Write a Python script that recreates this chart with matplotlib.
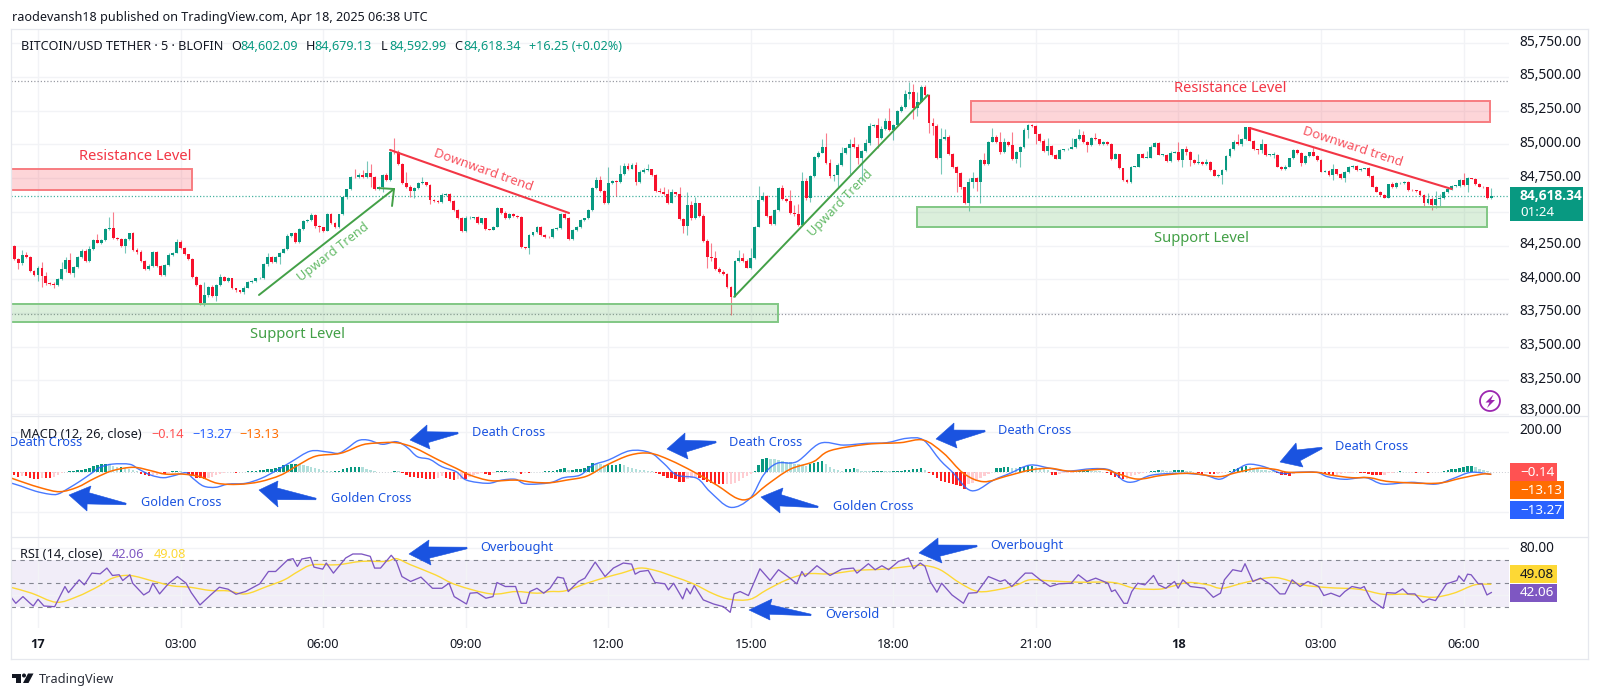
import numpy as np
import matplotlib
matplotlib.use("Agg")
import matplotlib.pyplot as plt
from matplotlib.patches import Polygon, Rectangle, Circle, PathPatch
from matplotlib.path import Path

W, H = 1600, 698
FONT = "Noto Sans"
plt.rcParams["font.family"] = FONT

# ---------------------------------------------------------------- candles
bar_start = -6
first_open = 84246
closes = [
 84152,84118,84179,84167,84061,84029,84081,84024,83969,83967,83957,83999,84073,84142,84048,84088,84162,84212,84137,84224,
 84291,84271,84291,84372,84382,84303,84298,84249,84298,84340,84217,84204,84137,84073,84100,84199,84100,84031,84105,84179,
 84197,84274,84229,84184,84150,84014,83957,83821,83883,83940,83875,83957,84014,83989,84006,83932,83918,83903,83937,83977,
 83984,84006,84009,84110,84162,84130,84162,84197,84224,84320,84340,84276,84375,84434,84439,84479,84397,84385,84360,84481,
 84419,84385,84481,84607,84667,84761,84756,84773,84756,84790,84756,84669,84682,84773,84736,84946,84941,84855,84711,84686,
 84657,84674,84711,84719,84699,84588,84583,84575,84625,84632,84583,84513,84452,84358,84452,84456,84459,84419,84452,84370,
 84367,84390,84526,84494,84452,84484,84469,84459,84236,84229,84328,84348,84390,84328,84316,84311,84372,84377,84484,84452,
 84298,84365,84390,84439,84452,84513,84674,84736,84657,84563,84711,84729,84724,84780,84840,84820,84847,84724,84798,84810,
 84815,84773,84657,84649,84632,84568,84644,84632,84444,84395,84550,84452,84563,84471,84283,84162,84157,84078,84056,84039,
 83945,83870,84135,84155,84137,84086,84155,84390,84588,84617,84471,84409,84513,84674,84595,84580,84494,84481,84402,84729,
 84600,84766,84904,84939,84978,84860,84766,84773,84847,84939,84971,85003,84978,84897,84951,85013,85137,85144,85045,85112,
 85174,85107,85144,85250,85280,85371,85389,85268,85317,85423,85367,85156,85139,84897,85038,85057,84929,84830,84785,84682,
 84563,84724,84748,84724,84884,84852,85020,85057,85020,84946,85020,84996,84889,84941,84978,85107,85144,85139,85077,85025,
 84954,84988,84921,84894,84958,84963,84968,84978,85038,85070,85018,84996,85045,85038,85001,85018,85003,84894,84926,84822,
 84736,84721,84835,84835,84926,84902,84902,84983,85010,84924,84924,84877,84939,84944,84884,84963,84944,84884,84860,84870,
 84855,84872,84810,84768,84773,84810,84914,84963,85020,85001,85038,85127,85028,84963,84958,85001,84921,84921,84921,84835,
 84817,84835,84897,84958,84934,84860,84914,84941,84916,84884,84798,84805,84773,84815,84780,84748,84795,84835,84840,84810,
 84820,84822,84768,84686,84649,84625,84605,84704,84686,84711,84716,84724,84662,84659,84654,84625,84563,84592,84550,84592,
 84600,84644,84667,84691,84691,84736,84699,84748,84746,84706,84686,84681,84602,84618.34]
upper_wicks = [
 5,5,40,20,8,5,20,50,32,8,10,8,55,25,55,10,8,15,10,25,
 5,45,10,8,80,115,10,5,5,5,8,15,10,5,15,10,10,5,8,15,
 5,22,18,8,5,5,8,5,100,10,15,10,22,8,8,5,5,5,10,10,
 8,5,5,10,35,8,8,8,5,17,5,10,5,5,10,10,5,8,5,8,
 8,8,5,8,5,8,60,15,35,87,65,10,8,8,15,5,105,15,8,85,
 10,8,10,40,5,8,10,8,15,8,5,5,5,8,15,15,5,10,5,5,
 5,8,8,5,10,8,10,5,8,5,5,5,8,5,5,5,8,8,8,10,
 10,5,5,8,5,10,8,20,30,5,125,10,5,70,20,25,15,25,10,15,
 40,5,8,20,35,40,25,5,55,12,100,30,50,5,10,12,105,50,15,10,
 5,5,10,60,40,10,75,5,100,30,8,8,10,8,25,10,85,60,80,65,
 20,5,10,15,60,105,30,10,15,45,10,40,50,25,8,30,20,10,50,25,
 25,95,10,8,12,30,75,60,75,15,20,5,40,10,85,60,15,8,10,10,
 5,30,45,8,5,50,5,62,10,70,30,8,94,8,10,15,5,8,5,8,
 15,60,8,5,8,5,5,70,8,42,30,10,8,42,5,5,5,5,10,5,
 5,5,5,8,5,8,50,10,5,5,5,5,10,5,72,5,25,8,5,60,
 5,20,5,10,5,5,5,8,10,60,10,5,5,8,5,37,5,5,25,5,
 5,10,5,8,8,8,5,5,40,5,5,5,5,40,5,5,5,8,10,5,
 8,5,8,8,5,5,5,5,20,8,8,8,5,5,5,5,5,45,20,60,
 30,8,5,5,8,10,50,8,5,5,5,5,5,61]
lower_wicks = [
 10,45,10,10,8,8,45,80,15,8,20,8,8,20,8,35,8,5,12,8,
 8,5,10,8,5,8,5,8,55,8,10,15,8,5,8,8,10,8,5,8,
 8,5,8,8,5,5,5,10,20,15,10,37,5,5,8,5,10,8,10,5,
 5,5,5,5,10,8,8,50,5,5,8,8,8,8,8,8,15,37,8,5,
 8,8,5,5,10,5,8,8,8,8,70,8,8,32,8,8,15,10,8,8,
 50,55,5,8,8,28,8,10,8,5,12,5,5,5,5,8,8,8,8,5,
 5,5,5,8,8,5,5,5,8,8,42,5,8,5,8,8,5,5,5,8,
 8,8,5,8,5,5,5,5,8,8,8,8,110,10,5,8,5,25,8,8,
 5,8,8,8,8,10,5,5,8,50,70,10,8,8,8,80,20,10,10,8,
 8,135,5,8,8,5,8,8,5,8,8,8,8,8,8,8,10,10,10,5,
 10,25,8,8,5,8,18,35,100,8,8,190,8,40,165,8,20,8,75,8,
 8,8,75,5,8,10,35,80,60,5,5,75,70,5,120,8,8,8,135,10,
 5,60,50,67,160,8,8,5,8,15,8,8,8,30,105,8,60,8,75,5,
 8,30,8,5,5,5,5,5,8,8,5,55,5,5,8,5,5,8,5,8,
 5,5,5,5,5,5,5,5,5,5,8,5,5,5,8,50,20,45,8,8,
 8,5,8,5,10,70,5,8,5,5,10,5,5,5,30,20,5,8,25,5,
 5,8,5,5,5,20,5,5,5,5,5,5,8,40,5,5,30,8,8,5,
 5,5,8,5,5,5,5,5,8,8,8,8,5,5,8,8,20,8,37,20,
 60,8,5,5,5,5,8,50,5,5,5,8,8,9]

# ---------------------------------------------------------------- MACD
hist_values = [
 -15,-25,-20,-22,-32,-35,-35,-30,-30,-30,-25,-18,-8,-2,
 5,5,8,10,12,18,28,32,38,40,38,30,25,25,20,15,10,3,
 -12,-18,-20,-18,-15,-10,-12,-5,5,5,3,-3,-15,-20,-30,-33,-38,-30,-25,-15,-10,-5,-3,-2,-5,-3,-2,
 2,3,5,8,10,12,15,20,25,32,35,40,40,38,35,30,25,20,15,10,5,2,3,5,12,18,22,25,25,22,15,8,5,
 -2,-2,-3,-2,3,2,-5,-15,-25,-25,-32,-32,-35,-38,-38,-30,-22,-30,-38,-40,-38,-35,-35,-25,-15,-10,-8,-10,-15,-5,
 3,5,5,3,2,-2,-10,-5,-5,-3,-3,-2,2,2,
 5,10,15,18,8,8,12,15,20,30,45,40,38,35,35,35,35,38,35,25,20,15,10,8,5,2,
 -8,-13,-20,-30,-33,-38,-50,-50,-35,-30,-28,-30,-40,-50,-58,-60,-62,-63,-62,-60,-55,-45,-30,-20,-10,
 5,35,65,70,65,62,60,55,50,48,40,38,35,30,38,45,50,55,40,25,15,10,5,12,15,18,15,5,3,2,3,5,5,3,2,3,3,5,8,10,12,15,18,8,
 -8,-18,-30,-45,-52,-58,-60,-67,-70,-85,-60,-55,-45,-30,-20,-10,-3,
 18,20,22,25,20,18,22,25,28,30,25,20,18,10,
 -15,-15,-10,-8,-6,-4,-2,3,5,8,6,4,2,-2,-5,-15,-25,-33,-38,-35,-22,-15,-10,-6,-3,
 3,6,10,8,6,5,8,8,10,6,3,-3,-8,-10,-8,-10,-12,-10,-5,-2,
 6,12,18,24,28,25,18,12,10,8,6,3,-8,-15,-18,-22,-10,-6,-4,-2,-1,-2,-3,-4,-12,-12,-15,-14,-13,-8,-5,-4,-3,-4,-6,-10,-15,-15,-18,-14,-8,-5,-3,
 2,1,-2,-2,-6,-3,-2,-5,-3,-2,1,2,8,12,12,18,22,28,28,22,15,10,5,-0.14]
macd_bars = [-6.6,-4.3,-0.7,2.8,5,7.7,10.8,13.5,15.7,18.8,23.2,25.4,28.5,31.6,34.3,37.4,39.1,41.8,44.9,48,52.4,56.4,60.4,64,68.8,73.3,75.9,78.1,80.8,83.4,87,90.5,93.2,95.8,98.9,102,105.6,108.2,113.6,117.1,120.6,123.3,
 129.3,132.7,136.9,140.2,144,149.5,154.6,158,161.3,166.4,169.7,174.8,179.8,183.2,186.6,191.6,197.5,203.4,209.3,214.3,219.4,223.6,227.8,231.2,234.5,237.1,241.3,245.5,250.5,255.6,
 260,266.2,270.7,274.2,276.9,281.3,288.4,294.6,298.6,302.5,305.6,309.6,314,317.6,322.9,325.6,330,335.3,339.7,346.8,353,357.5,361.9,367]
macd_vals = [-58,-72,-97,-112,-112,-83,-45,-8,22,38,37,13,-17,-30,-20,-5,-33,-72,-78,-62,-58,-33,8,50,103,98,92,117,155,158,137,150,122,75,62,25,0,-42,-58,-42,-38,-62,
 -55,-30,-17,33,58,105,95,42,-17,-33,-100,-178,-133,-17,42,50,142,133,142,145,167,158,58,-8,-83,-92,-42,-8,33,17,
 3,15,8,-45,-50,-17,-8,-17,-37,8,37,25,-8,-3,-3,-25,-38,-30,-62,-53,-62,-33,-3,-13.27]
signal_bars = [-6.6,-3.4,1.1,5.5,9.9,14.3,18.8,24.1,28.5,32.1,36.5,40.9,45.3,50.7,56,61.3,65.7,70.2,76.4,81.7,85.2,90.5,95,101.2,105.6,109.1,114.4,120.6,125.1,
 129.3,133.5,138.6,143.6,149.5,154.6,159.6,165.5,171.4,176.5,179.8,184,189.9,195.8,200,209.3,217.7,223.6,228.7,233.7,238.8,244.6,250.5,255.6,
 260.9,268.9,272.4,277.7,283.9,291,298.1,302.5,307.9,312.3,315.8,322.9,326.5,331.8,336.2,341.5,353,359.2,364.6,367]
signal_vals = [-33,-55,-83,-100,-78,-33,5,22,5,-12,-12,-25,-58,-63,-50,-17,33,78,92,133,143,145,120,58,17,-17,-45,-42,-53,
 -55,-42,-22,33,83,92,58,0,-67,-133,-133,-67,12,50,105,137,145,158,92,-8,-50,-22,8,17,
 2,12,-8,-37,-18,-8,-25,-5,17,12,-3,-3,-17,-30,-30,-50,-58,-33,-12,-13.13]

# ---------------------------------------------------------------- RSI
rsi_bars = [-6.6,-5.6,-3.8,-2,-1.2,0,1.5,4.2,5.5,6.8,7.7,10.4,11.7,13.6,15.7,17.4,18.8,20.5,21.4,23.2,23.9,26.7,28.1,29,30.7,32.9,35.2,37.4,38.7,40.9,43.6,45.8,48,50,52.4,56,58.2,60,63.1,64.4,65.5,66.6,68.8,69.7,71.9,72.8,74.6,77.7,79.5,81.7,83.9,85,86.5,89.2,90.5,91.9,94.1,96.7,99.6,102,103.8,105.1,108.2,109.1,110.9,113.1,114.9,115.9,118,120.6,122,123.3,124.2,126,127.7,
 129.3,131.2,132.7,133.9,136.5,138.1,140.7,143.2,145.3,147.8,149.9,150.8,152,154.1,155.8,158.3,159.2,160.5,162.8,163.8,164.7,165.7,168,170.6,173.1,174.8,175.8,177.3,179.4,182.3,184.9,187,189.9,191.6,192.9,193.7,196.7,200,203,205.9,206.8,209.7,211.4,213.1,214.8,217.3,219.8,221.1,222.8,224,225.3,227,228.2,230.8,233.7,235,237.1,240,243,244.2,245.9,249.3,251,253.1,255.6,
 257.8,260.9,262.7,264.9,267.1,270.2,271.1,272,274.2,275.1,276.2,277.7,279.5,281.7,283,284.8,287,287.9,289.1,291,294.6,296.8,298.6,299.6,301.7,303.9,304.8,306.8,308.7,311.4,313.6,314.9,316.7,318.7,320.7,323.4,324.7,326.5,328.7,330,331.8,334,334.9,336.6,339.7,340.6,342.8,344.6,345.9,347.7,349.7,351.3,352.9,355.7,358.3,358.8,360.1,361,361.9,363.7,364.7,365.9,367]
rsi_vals = [37.2,32.9,38.6,32.9,30.6,36.3,30.6,30,38.6,47.2,42,52.9,48.6,58.6,58,62.9,56.6,57.2,52.3,57.2,50,40,42.9,50,40.9,49.5,55.7,50,42,31.5,40,46.6,44.9,40.6,42.9,49.5,60,60,70,70.9,64.3,70.6,72,63.7,62,67.2,58.6,71.5,74.9,74.9,72.9,62.9,62.9,73.8,68.6,55.7,51.5,55.2,45.7,45.7,50,38.6,32.3,41.5,42,37.2,38.6,50.6,47.2,47.2,32.9,32.9,42.9,45.7,41.5,
 45.7,55.2,54.3,42.9,51.5,54.3,68,55.7,62.9,67.2,66.3,57.7,60,60.9,50.6,49.5,44.3,50,36.6,45.7,40.9,48,35.8,32.3,30,25.2,40.9,42.9,39.5,62.3,52.3,61.5,54.3,49.5,60,55.7,64.9,56.6,62,62.9,58.6,66.6,61.5,64.9,61.5,68.6,71.5,62.3,67.2,64.3,51.5,42.3,50,40,32.9,41.5,42,55.7,51.5,52.9,47.2,58.6,58.6,52.9,47.2,
 49.5,50,57.2,51.5,54.3,50,42.9,44.3,32.9,32.9,42.9,50,48.6,56.6,48.6,45.7,51.5,45.7,52.9,47.2,45.7,38,41.5,52.9,61.5,60,66.6,51.5,54.3,48.6,40.9,40.9,52.9,47.2,51.5,47.2,39.5,41.5,38.6,42.9,47.2,45.7,47.2,35.8,28.6,42,41.5,45.2,40.9,40.9,33.5,36.6,35.2,49.5,52.3,56.3,51.5,57.7,57.2,49.5,49.5,40,42.06]
rsi_ma_bars = [-6.6,-1.6,4.6,9.9,15.2,18.8,23.2,29.4,33.8,38.3,43.6,48,52.4,57.8,62.2,65.7,69.3,75.5,81.7,87.9,90.5,94.1,100.3,105.6,114.4,120.6,126,
 129.3,133.1,138.6,143.6,147.4,152,156.2,160.5,165.5,170.6,174.8,179.8,184,189.1,194.1,200,206.8,213.5,219.8,223.6,227.8,232.9,237.5,243,247.2,250.5,255.6,
 262.7,271.5,276.9,283,286.2,290.6,295.5,299,305.2,312.3,319.4,325.6,333.5,339.7,345.9,352.1,357.5,362.8,367]
rsi_ma_vals = [46.3,41.5,33.8,38.6,47.2,54.3,56.6,51.5,47.8,46.6,43.8,43.5,40.9,47.2,52.9,60,65.7,65.7,68.6,68.6,70.9,65.7,57.2,48.6,40.9,42.9,41.5,
 42.9,43.5,50,55.2,58.6,62.9,60.6,55.7,49.5,40.9,36.3,36.3,44.3,52.9,58,58,60.9,62,64.3,65.2,61.5,50,42.9,44.9,48.6,52.9,52,
 50.9,50.6,45.7,44.9,47.2,50.6,48.6,45.7,50.9,54.9,48.6,46.3,44.9,40.6,40.6,38,41.5,48.6,49.08]

# ---------------------------------------------------------------- axis labels
price_ticks = [85750,85500,85250,85000,84750,84500,84250,84000,83750,83500,83250,83000]
price_labels_hidden = [84500]  # sits behind the last-price tag
time_ticks = [0,36,72,108,144,180,216,252,288,324,360]
time_labels = ["17","03:00","06:00","09:00","12:00","15:00","18:00","21:00","18","03:00","06:00"]

# ---------------------------------------------------------------- drawn objects (bar index, price)
resistance_zones = [(-7,39,84662,84818),(235.6,366.7,85166,85322)]
support_zones = [(-7,186.9,83683,83816),(222,365.9,84387,84536)]
up_lines = [((55.8,83883),(89.9,84669)),((175.8,83869),(224.7,85366))]
up_barbs = [((86.1,84676),(89.9,84669)),((89.4,84543),(89.9,84669))]
down_lines = [((88.9,84959),(134.1,84491)),((306,85122),(357,84669))]
level_dotted = [(85470,"#787b86"),(84618,"#089981"),(83739,"#787b86")]

# ---------------------------------------------------------------- hand-drawn blue arrows: tip, top barb, tail, bottom barb (image px)
arrows = [
 ((69,495),(91,486),(126,504),(87,511)),
 ((259,490),(278,481),(316,499),(278,507)),
 ((410,440),(427,425),(458,433),(430,449)),
 ((667,449),(685,433),(716,442),(688,459)),
 ((761,497),(783,488),(818,507),(780,513)),
 ((936,439),(954,423),(985,431),(957,448)),
 ((409,554),(429,540),(467,548),(431,565)),
 ((919,553),(938,538),(977,546),(942,563)),
 ((749,610),(772,599),(811,615),(770,620)),
 ((1280,462),(1296,443),(1322,448),(1303,467)),
]
blue_labels = [
 ("Death Cross",46,442),("Death Cross",509,432),("Golden Cross",181,503),("Golden Cross",371,498),
 ("Death Cross",766,442),("Golden Cross",873,506),("Death Cross",1035,430),("Death Cross",1372,447),
 ("Overbought",517,548),("Overbought",1027,545),("Oversold",852,614),
]

# ---------------------------------------------------------------- geometry
LEFT, RIGHT = 10.5, 1509.0
PANE1_TOP, PANE1_BOT = 29.0, 416.0
PANE2_BOT, PANE3_BOT = 536.7, 628.0
XLIM = ((LEFT-38)/3.96, (RIGHT-38)/3.96)

fig = plt.figure(figsize=(W/100, H/100), dpi=100, facecolor="white")

def add_ax(top, bot):
    ax = fig.add_axes([LEFT/W, 1-bot/H, (RIGHT-LEFT)/W, (bot-top)/H], facecolor="none")
    ax.set_xlim(*XLIM)
    for s in ax.spines.values():
        s.set_visible(False)
    ax.set_xticks(time_ticks)
    ax.set_xticklabels([])
    ax.tick_params(length=0, labelleft=False, labelbottom=False)
    ax.grid(True, color="#f2f3f6", lw=1.0)
    ax.set_axisbelow(True)
    return ax

ax1 = add_ax(PANE1_TOP, PANE1_BOT)
ax2 = add_ax(PANE1_BOT, PANE2_BOT)
ax3 = add_ax(PANE2_BOT, PANE3_BOT)

ax1.set_ylim(85250+(110.7-PANE1_BOT)*7.418, 85250+(110.7-PANE1_TOP)*7.418)
ax2.set_ylim((471.7-PANE2_BOT)*5, (471.7-PANE1_BOT)*5)
ax3.set_ylim(80-(PANE3_BOT-548)/1.174, 80+(548-PANE2_BOT)/1.174)
ax1.set_yticks(price_ticks)
ax2.set_yticks([-200,200])
ax3.set_yticks([40,80])

UP, DOWN = "#089981", "#f7112c"
idx = np.arange(bar_start, bar_start+len(closes))
c = np.array(closes, float)
o = np.r_[first_open, c[:-1]]
top = np.maximum(o, c); bot = np.minimum(o, c)
hi = top+np.array(upper_wicks, float)
lo = bot-np.array(lower_wicks, float)
cols = [UP if a >= b else DOWN for a, b in zip(c, o)]
for level, col in level_dotted:
    ax1.axhline(level, color=col, lw=0.9, ls=(0,(1,1.6)), alpha=0.75, zorder=1)
ax1.vlines(idx, lo, hi, colors=cols, lw=0.8, alpha=0.55, zorder=2)
ax1.bar(idx, np.maximum(top-bot, 5), bottom=bot, width=0.72, color=cols, lw=0, zorder=3)

for a, b, p0, p1 in resistance_zones:
    ax1.add_patch(Rectangle((a,p0), b-a, p1-p0, edgecolor="#f77c80", lw=1.4, zorder=4,
                            facecolor=(0.97,0.32,0.37,0.24)))
for a, b, p0, p1 in support_zones:
    ax1.add_patch(Rectangle((a,p0), b-a, p1-p0, edgecolor="#81c784", lw=1.4, zorder=4,
                            facecolor=(0.30,0.69,0.31,0.2)))
for (a, b) in up_lines+up_barbs:
    ax1.plot([a[0],b[0]], [a[1],b[1]], color="#43a047", lw=1.4, zorder=5, solid_capstyle="round")
for (a, b) in down_lines:
    ax1.plot([a[0],b[0]], [a[1],b[1]], color="#f23645", lw=1.5, zorder=5, solid_capstyle="round")

def curve(ax, xs, ys, color, lw, zorder, alpha=1.0):
    p = np.column_stack([xs, ys]).astype(float)
    verts, codes = [p[0]], [Path.MOVETO]
    for k in range(len(p)-1):
        p0 = p[max(k-1, 0)]; p1 = p[k]; p2 = p[k+1]; p3 = p[min(k+2, len(p)-1)]
        verts += [p1+(p2-p0)/6, p2-(p3-p1)/6, p2]
        codes += [Path.CURVE4]*3
    ax.add_patch(PathPatch(Path(verts, codes), fill=False, edgecolor=color, lw=lw, zorder=zorder, alpha=alpha))

# MACD
h = np.array(hist_values, float)
hcols = []
for k, v in enumerate(h):
    prev = h[k-1] if k else v
    if v >= 0:
        hcols.append("#089981" if v >= prev else "#b2dfdb")
    else:
        hcols.append("#ff2020" if v <= prev else "#ffcdd2")
ax2.bar(idx, h, width=0.62, color=hcols, lw=0, zorder=2)
ax2.axhline(0, color="#c9ccd3", lw=0.7, ls=(0,(1,2)), zorder=1)
curve(ax2, macd_bars, macd_vals, "#2962ff", 1.0, 3, 0.85)
curve(ax2, signal_bars, signal_vals, "#ff6d00", 1.1, 4)

# RSI
ax3.axhspan(30, 70, color="#7e57c2", alpha=0.1, lw=0, zorder=0)
for lv in (70, 50, 30):
    ax3.axhline(lv, color="#787b86", lw=0.8, ls=(0,(4,4)), zorder=1, alpha=0.9)
curve(ax3, rsi_ma_bars, rsi_ma_vals, "#fdd835", 1.0, 3)
ax3.plot(rsi_bars, rsi_vals, color="#7e57c2", lw=0.95, zorder=4)

# ---------------------------------------------------------------- overlay in image pixels
ov = fig.add_axes([0,0,1,1], facecolor="none", zorder=10)
ov.set_xlim(0, W); ov.set_ylim(H, 0); ov.axis("off")

GRID = "#e6e8ee"
for x0, y0, x1, y1 in [(10.5,29,1588,29),(10.5,659,1588,659),(10.5,29,10.5,659),(1588,29,1588,659),
                       (10.5,416,1588,416),(10.5,536.7,1588,536.7)]:
    ov.plot([x0,x1],[y0,y1],color=GRID,lw=0.9,zorder=1)

TXT = "#131722"
def t(x, y, s, color=TXT, size=8.6, ha="left", **kw):
    return ov.text(x, y, s, color=color, fontsize=size, ha=ha, va="center", zorder=kw.pop("zorder",8), **kw)

t(12, 17, "raodevansh18 published on TradingView.com, Apr 18, 2025 06:38 UTC", size=9.05)
t(21, 47, "BITCOIN/USD TETHER · 5 · BLOFIN", size=9.1)
for lab, x, val, xv in [("O",231,"84,602.09",240),("H",306,"84,679.13",314.5),("L",381,"84,592.99",389),("C",454,"84,618.34",463)]:
    t(x, 47, lab, size=9.1)
    t(xv, 47, val, color="#089981", size=9.1)
t(529, 47, "+16.25 (+0.02%)", color="#089981", size=9.1)

t(20, 434, "MACD (12, 26, close)", size=9.2)
t(151, 434, "−0.14", color="#ff5252", size=9.2)
t(192, 434, "−13.27", color="#2962ff", size=9.2)
t(239, 434, "−13.13", color="#ff6d00", size=9.2)
t(20, 555, "RSI (14, close)", size=9.2)
t(112, 555, "42.06", color="#7e57c2", size=9.2)
t(154, 555, "49.08", color="#fdd835", size=9.2)

# y axis labels
for p in price_ticks:
    if p in price_labels_hidden:
        continue
    y = 110.7+(85250-p)/7.418-1
    if p == 83000:
        y = 411
    t(1519, y, f"{p:,.2f}", size=9.9, zorder=2)
t(1519, 431, "200.00", size=9.9)
t(1519, 548, "80.00", size=9.9)

# time labels
for b, lab in zip(time_ticks, time_labels):
    bold = lab in ("17","18")
    t(38+3.96*b, 644, lab, ha="center", size=9.2,
      fontweight="bold" if bold else "normal", fontfamily="Open Sans" if bold else FONT)

def box(x0, x1, y0, y1, col):
    ov.add_patch(Rectangle((x0,y0), x1-x0, y1-y0, fc=col, ec="none", zorder=5))
box(1510, 1583, 187, 221, "#089981")
t(1520, 196, "84,618.34", color="white", size=9.9, fontweight="bold", fontfamily="Open Sans")
t(1520, 212, "01:24", color="white", size=9.6)
box(1510, 1557, 463, 481, "#ff5252"); t(1520, 472, "−0.14", color="white", size=9.7)
box(1510, 1564, 481, 499, "#ff6d00"); t(1520, 490, "−13.13", color="white", size=9.7)
box(1510, 1564, 501, 519, "#2962ff"); t(1520, 510, "−13.27", color="white", size=9.7)
box(1510, 1557, 565, 583, "#fdd835"); t(1520, 574, "49.08", color=TXT, size=9.7)
box(1510, 1557, 583.5, 601.7, "#7e57c2"); t(1520, 593, "42.06", color="white", size=9.7)

# zone and trend labels
t(135.5, 156, "Resistance Level", color="#f23645", size=10.6, ha="center")
t(1230, 88, "Resistance Level", color="#f23645", size=10.6, ha="center")
t(297, 335, "Support Level", color="#43a047", size=10.6, ha="center")
t(1202, 239, "Support Level", color="#43a047", size=10.6, ha="center")
t(333, 252, "Upward Trend", color="#66bb6a", size=9.2, ha="center", rotation=38, rotation_mode="anchor")
t(840, 203, "Upward Trend", color="#66bb6a", size=9.2, ha="center", rotation=46, rotation_mode="anchor")
t(483, 170, "Downward trend", color="#f7525f", size=9.4, ha="center", rotation=-19.5, rotation_mode="anchor")
t(1353, 147, "Downward trend", color="#f7525f", size=9.4, ha="center", rotation=-18, rotation_mode="anchor")

BLUE = "#1a53e0"
for tip, tb, tail, bb in arrows:
    tip, tb, tail, bb = map(np.array, (tip, tb, tail, bb))
    base = (tb+bb)/2
    it = base+0.45*(tb-base)+0.05*(tip-base)
    ib = base+0.45*(bb-base)+0.05*(tip-base)
    perp = np.array([-(tail-base)[1], (tail-base)[0]], float)
    perp = perp/np.hypot(*perp)*0.8
    ov.add_patch(Polygon([tip,tb,it,tail+perp*-1,tail+perp,ib,bb], closed=True, fc=BLUE, ec=BLUE, lw=0.4, zorder=7))
for s, x, y in blue_labels:
    tx = t(x, y, s, color=BLUE, size=9.2, ha="center")
    if x == 46:
        tx.set_clip_path(Rectangle((10.5,420),200,60,transform=ov.transData))
        tx.set_clip_on(True)

# lightning badge
ov.add_patch(Circle((1490,401), 10, fc="white", ec="#9c27b0", lw=1.3, zorder=6))
ov.add_patch(Polygon([(1493.5,394.5),(1485.5,402.5),(1489.5,402.5),(1487,408),(1495,400),(1491,400)],
                     closed=True, fc="#9c27b0", ec="none", zorder=7))

# TradingView logo
ov.add_patch(Polygon([(12,673.5),(21,673.5),(21,683),(16,683),(16,677.5),(12,677.5)], closed=True, fc=TXT, ec="none"))
ov.add_patch(Circle((24,675.5), 2, fc=TXT, ec="none"))
ov.add_patch(Polygon([(28,673.5),(33.5,673.5),(28.5,683),(23,683)], closed=True, fc=TXT, ec="none"))
t(39, 679, "TradingView", size=9.2, color="#2a2e39")

fig.savefig("out.png", dpi=100, facecolor="white")
